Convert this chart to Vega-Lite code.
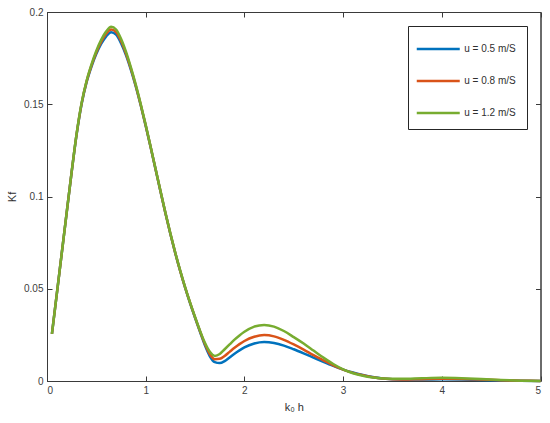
{
  "$schema": "https://vega.github.io/schema/vega-lite/v6.json",
  "width": 493.5,
  "height": 369,
  "autosize": {"type": "none"},
  "padding": {"left": 47, "top": 12, "right": 9.5, "bottom": 42},
  "background": "white",
  "config": {
    "view": {"stroke": "#3a3a3a", "strokeWidth": 1},
    "font": "Liberation Sans",
    "axis": {
      "grid": false,
      "domainColor": "#3a3a3a",
      "tickColor": "#3a3a3a",
      "labelColor": "#404040",
      "labelFont": "Liberation Sans",
      "labelFontSize": 10,
      "titleFont": "Liberation Sans",
      "titleFontSize": 11,
      "titleFontWeight": "normal",
      "titleColor": "#303030",
      "tickSize": -5
    }
  },
  "datasets": {
    "kf": [
      {"x":0.05,"b":0.0255,"o":0.0255,"g":0.0255},
      {"x":0.10,"b":0.0475,"o":0.0475,"g":0.0475},
      {"x":0.15,"b":0.0695,"o":0.0695,"g":0.0695},
      {"x":0.20,"b":0.0915,"o":0.0915,"g":0.0915},
      {"x":0.25,"b":0.1133,"o":0.1134,"g":0.1135},
      {"x":0.30,"b":0.1336,"o":0.1338,"g":0.1340},
      {"x":0.35,"b":0.1499,"o":0.1502,"g":0.1505},
      {"x":0.40,"b":0.1617,"o":0.1621,"g":0.1625},
      {"x":0.45,"b":0.1703,"o":0.1709,"g":0.1715},
      {"x":0.50,"b":0.1773,"o":0.1782,"g":0.1790},
      {"x":0.55,"b":0.1828,"o":0.1839,"g":0.1850},
      {"x":0.60,"b":0.1868,"o":0.1882,"g":0.1895},
      {"x":0.65,"b":0.1890,"o":0.1905,"g":0.1920},
      {"x":0.70,"b":0.1877,"o":0.1891,"g":0.1905},
      {"x":0.75,"b":0.1831,"o":0.1843,"g":0.1855},
      {"x":0.80,"b":0.1766,"o":0.1775,"g":0.1785},
      {"x":0.85,"b":0.1686,"o":0.1693,"g":0.1700},
      {"x":0.90,"b":0.1595,"o":0.1600,"g":0.1605},
      {"x":0.95,"b":0.1493,"o":0.1496,"g":0.1500},
      {"x":1.00,"b":0.1383,"o":0.1385,"g":0.1388},
      {"x":1.05,"b":0.1267,"o":0.1268,"g":0.1270},
      {"x":1.10,"b":0.1147,"o":0.1148,"g":0.1150},
      {"x":1.15,"b":0.1027,"o":0.1028,"g":0.1030},
      {"x":1.20,"b":0.0909,"o":0.0910,"g":0.0912},
      {"x":1.25,"b":0.0797,"o":0.0798,"g":0.0800},
      {"x":1.30,"b":0.0692,"o":0.0693,"g":0.0695},
      {"x":1.35,"b":0.0595,"o":0.0596,"g":0.0598},
      {"x":1.40,"b":0.0505,"o":0.0506,"g":0.0508},
      {"x":1.45,"b":0.0421,"o":0.0423,"g":0.0425},
      {"x":1.50,"b":0.0343,"o":0.0345,"g":0.0347},
      {"x":1.55,"b":0.0267,"o":0.0270,"g":0.0273},
      {"x":1.60,"b":0.0193,"o":0.0200,"g":0.0207},
      {"x":1.65,"b":0.0134,"o":0.0145,"g":0.0158},
      {"x":1.70,"b":0.0102,"o":0.0118,"g":0.0136},
      {"x":1.75,"b":0.0097,"o":0.0120,"g":0.0146},
      {"x":1.80,"b":0.0108,"o":0.0136,"g":0.0172},
      {"x":1.85,"b":0.0128,"o":0.0158,"g":0.0198},
      {"x":1.90,"b":0.0148,"o":0.0180,"g":0.0224},
      {"x":1.95,"b":0.0166,"o":0.0200,"g":0.0247},
      {"x":2.00,"b":0.0182,"o":0.0217,"g":0.0267},
      {"x":2.10,"b":0.0203,"o":0.0240,"g":0.0295},
      {"x":2.20,"b":0.0211,"o":0.0249,"g":0.0304},
      {"x":2.30,"b":0.0206,"o":0.0242,"g":0.0295},
      {"x":2.40,"b":0.0192,"o":0.0223,"g":0.0271},
      {"x":2.50,"b":0.0172,"o":0.0198,"g":0.0238},
      {"x":2.60,"b":0.0150,"o":0.0170,"g":0.0203},
      {"x":2.70,"b":0.0127,"o":0.0140,"g":0.0165},
      {"x":2.80,"b":0.0104,"o":0.0112,"g":0.0127},
      {"x":2.90,"b":0.0082,"o":0.0085,"g":0.0092},
      {"x":3.00,"b":0.0062,"o":0.0062,"g":0.0063},
      {"x":3.10,"b":0.0046,"o":0.0044,"g":0.0042},
      {"x":3.20,"b":0.0033,"o":0.0031,"g":0.0028},
      {"x":3.30,"b":0.0022,"o":0.0020,"g":0.0019},
      {"x":3.40,"b":0.0014,"o":0.0013,"g":0.0014},
      {"x":3.60,"b":0.0008,"o":0.0008,"g":0.0012},
      {"x":3.80,"b":0.0008,"o":0.0010,"g":0.0015},
      {"x":4.00,"b":0.0009,"o":0.0012,"g":0.0017},
      {"x":4.20,"b":0.0008,"o":0.0011,"g":0.0015},
      {"x":4.40,"b":0.0006,"o":0.0008,"g":0.0011},
      {"x":4.60,"b":0.0003,"o":0.0004,"g":0.0006},
      {"x":4.80,"b":0.0001,"o":0.0002,"g":0.0002},
      {"x":5.00,"b":0.0,"o":0.0,"g":0.0}
    ]
  },
  "data": {"name": "kf"},
  "transform": [
    {"fold": ["b", "o", "g"], "as": ["key", "y"]},
    {"lookup": "key", "from": {"data": {"values": [
      {"key": "b", "u": "u = 0.5 m/S"},
      {"key": "o", "u": "u = 0.8 m/S"},
      {"key": "g", "u": "u = 1.2 m/S"}
    ]}, "key": "key", "fields": ["u"]}}
  ],
  "layer": [
    {
      "mark": {"type": "line", "strokeWidth": 2.5, "interpolate": "monotone"},
      "encoding": {
        "x": {"field": "x", "type": "quantitative", "scale": {"domain": [0, 5], "nice": false},
              "axis": {"orient": "bottom", "values": [0,1,2,3,4,5], "format": "~g", "title": "k₀ h", "labelPadding": 9, "titlePadding": 6}},
        "y": {"field": "y", "type": "quantitative", "scale": {"domain": [0, 0.2], "nice": false},
              "axis": {"orient": "left", "values": [0,0.05,0.1,0.15,0.2], "format": "~g", "title": "Kf", "labelPadding": 9, "titlePadding": 6}},
        "color": {"field": "u", "type": "nominal",
          "scale": {"domain": ["u = 0.5 m/S", "u = 0.8 m/S", "u = 1.2 m/S"], "range": ["#0072BD", "#D95319", "#77AC30"]},
          "legend": {"orient": "none", "legendX": 361, "legendY": 14, "title": null,
            "symbolType": "M-2,0H2", "symbolSize": 462, "symbolStrokeWidth": 2.5, "symbolOffset": 7.25,
            "labelFontSize": 10, "labelColor": "#303030", "labelOffset": 14, "labelFont": "Liberation Sans",
            "strokeColor": "#262626", "fillColor": "white", "padding": 11, "rowPadding": 15}},
        "order": {"field": "key", "sort": "descending"}
      }
    },
    {
      "mark": {"type": "line", "opacity": 0},
      "encoding": {
        "x": {"field": "x", "type": "quantitative", "axis": {"orient": "top", "values": [0,1,2,3,4,5], "labels": false, "title": null}},
        "y": {"field": "y", "type": "quantitative", "axis": {"orient": "right", "values": [0,0.05,0.1,0.15,0.2], "labels": false, "title": null}},
        "detail": {"field": "key"}
      }
    }
  ],
  "resolve": {"axis": {"x": "independent", "y": "independent"}}
}
